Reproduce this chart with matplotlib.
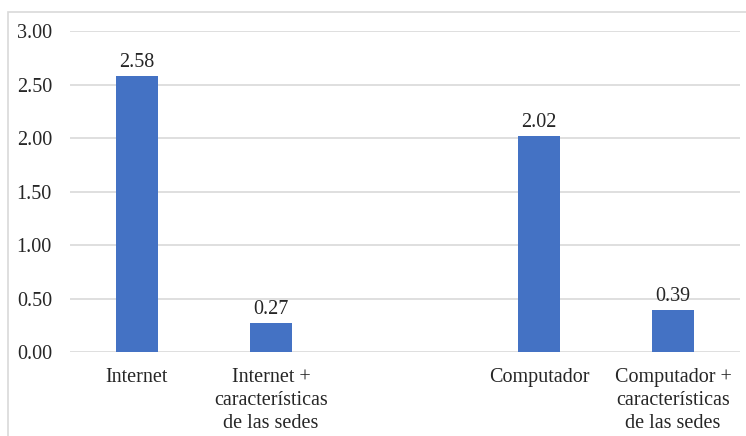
import matplotlib
matplotlib.use("Agg")
import matplotlib.pyplot as plt
from matplotlib.patches import Rectangle

categories = ["Internet", "Internet +\ncaracterísticas\nde las sedes",
              "Computador", "Computador +\ncaracterísticas\nde las sedes"]
values = [2.58, 0.27, 2.02, 0.39]
positions = [0, 1, 3, 4]
yticks = [0.0, 0.5, 1.0, 1.5, 2.0, 2.5, 3.0]

plt.rcParams['font.family'] = ['Liberation Serif', 'DejaVu Serif']
FS = 14.5

fig = plt.figure(figsize=(7.46, 4.36), dpi=100)
ax = fig.add_axes([70/746, 1-352/436, 670/746, 321/436])

bars = ax.bar(positions, values, width=0.31, color="#4472C4", zorder=3)
for b, v in zip(bars, values):
    ax.annotate(f"{v:.2f}", (b.get_x() + b.get_width()/2, v), xytext=(0, 3),
                textcoords="offset points", ha="center", va="bottom",
                fontsize=FS, color="#262626")

ax.set_xlim(-0.5, 4.5)
ax.set_ylim(0, 3.0)
ax.set_yticks(yticks)
ax.set_yticklabels([f"{t:.2f}" for t in yticks], fontsize=FS, color="#262626")
ax.set_xticks(positions)
ax.set_xticklabels(categories, fontsize=FS, color="#262626", linespacing=1.3)
ax.tick_params(axis="both", length=0)
ax.tick_params(axis="y", pad=13)
ax.tick_params(axis="x", pad=11.5)
ax.grid(axis="y", color="#d9d9d9", linewidth=1.2, zorder=0)
for s in ax.spines.values():
    s.set_visible(False)

fig.patches.append(Rectangle((8/746, -0.1), 1.1, 1 - 12/436 + 0.1,
                             transform=fig.transFigure, fill=False,
                             edgecolor="#d9d9d9", linewidth=1.2))

fig.savefig("out.png", dpi=100)
